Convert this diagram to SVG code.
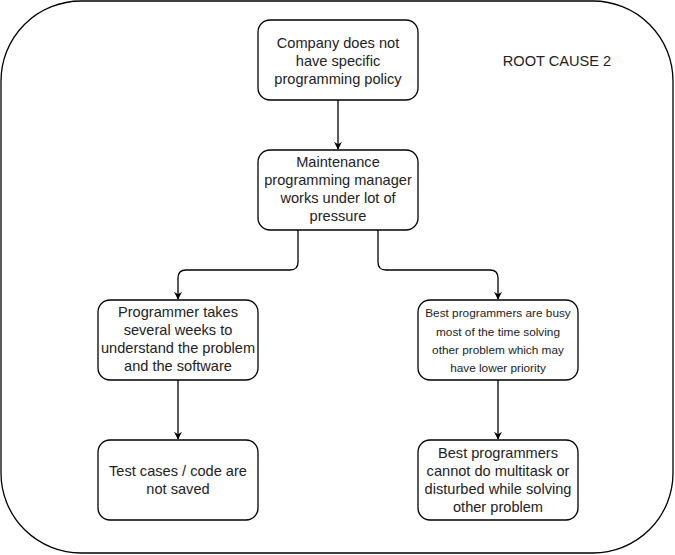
<svg xmlns="http://www.w3.org/2000/svg" width="675" height="555" viewBox="0 0 675 555">
<defs>
<style>
.box{fill:#fff;stroke:#000;stroke-width:1.3}
.t{font-family:"Liberation Sans",Arial,sans-serif;font-size:14.6px;fill:#222;text-anchor:middle}
.s{font-size:11.8px}
.c{fill:none;stroke:#000;stroke-width:1.3}
</style>
<marker id="a" viewBox="0 0 10 10" refX="9" refY="5" markerWidth="8" markerHeight="8" markerUnits="userSpaceOnUse" orient="auto">
<path d="M0,0 L10,5 L0,10 L3,5 Z" fill="#000"/>
</marker>
</defs>
<rect id="frame" x="1" y="1" width="672" height="552" rx="80" ry="80" fill="#fff" stroke="#000" stroke-width="1.3"/>
<text class="t" x="557" y="66">ROOT CAUSE 2</text>
<g id="connectors">
<path class="c" d="M338,100 V149" marker-end="url(#a)"/>
<path class="c" d="M298,230 V262 Q298,270 290,270 H186 Q178,270 178,278 V299" marker-end="url(#a)"/>
<path class="c" d="M378,230 V262 Q378,270 386,270 H490 Q498,270 498,278 V299" marker-end="url(#a)"/>
<path class="c" d="M178,380 V439" marker-end="url(#a)"/>
<path class="c" d="M498,380 V439" marker-end="url(#a)"/>
</g>
<g id="n1">
<rect class="box" x="258" y="20" width="160" height="80" rx="12"/>
<text class="t" x="338" y="48">Company does not</text>
<text class="t" x="338" y="66">have specific</text>
<text class="t" x="338" y="84">programming policy</text>
</g>
<g id="n2">
<rect class="box" x="258" y="150" width="160" height="80" rx="12"/>
<text class="t" x="338" y="167">Maintenance</text>
<text class="t" x="338" y="185">programming manager</text>
<text class="t" x="338" y="203">works under lot of</text>
<text class="t" x="338" y="221">pressure</text>
</g>
<g id="n3">
<rect class="box" x="98" y="300" width="160" height="80" rx="12"/>
<text class="t" x="178" y="317">Programmer takes</text>
<text class="t" x="178" y="335">several weeks to</text>
<text class="t" x="178" y="353">understand the problem</text>
<text class="t" x="178" y="371">and the software</text>
</g>
<g id="n4">
<rect class="box" x="418" y="300" width="160" height="80" rx="12"/>
<text class="t s" x="498" y="317">Best programmers are busy</text>
<text class="t s" x="498" y="336">most of the time solving</text>
<text class="t s" x="498" y="354">other problem which may</text>
<text class="t s" x="498" y="372">have lower priority</text>
</g>
<g id="n5">
<rect class="box" x="98" y="440" width="160" height="80" rx="12"/>
<text class="t" x="178" y="476">Test cases / code are</text>
<text class="t" x="178" y="494">not saved</text>
</g>
<g id="n6">
<rect class="box" x="418" y="440" width="160" height="80" rx="12"/>
<text class="t" x="498" y="458">Best programmers</text>
<text class="t" x="498" y="476">cannot do multitask or</text>
<text class="t" x="498" y="494">disturbed while solving</text>
<text class="t" x="498" y="512">other problem</text>
</g>
</svg>
